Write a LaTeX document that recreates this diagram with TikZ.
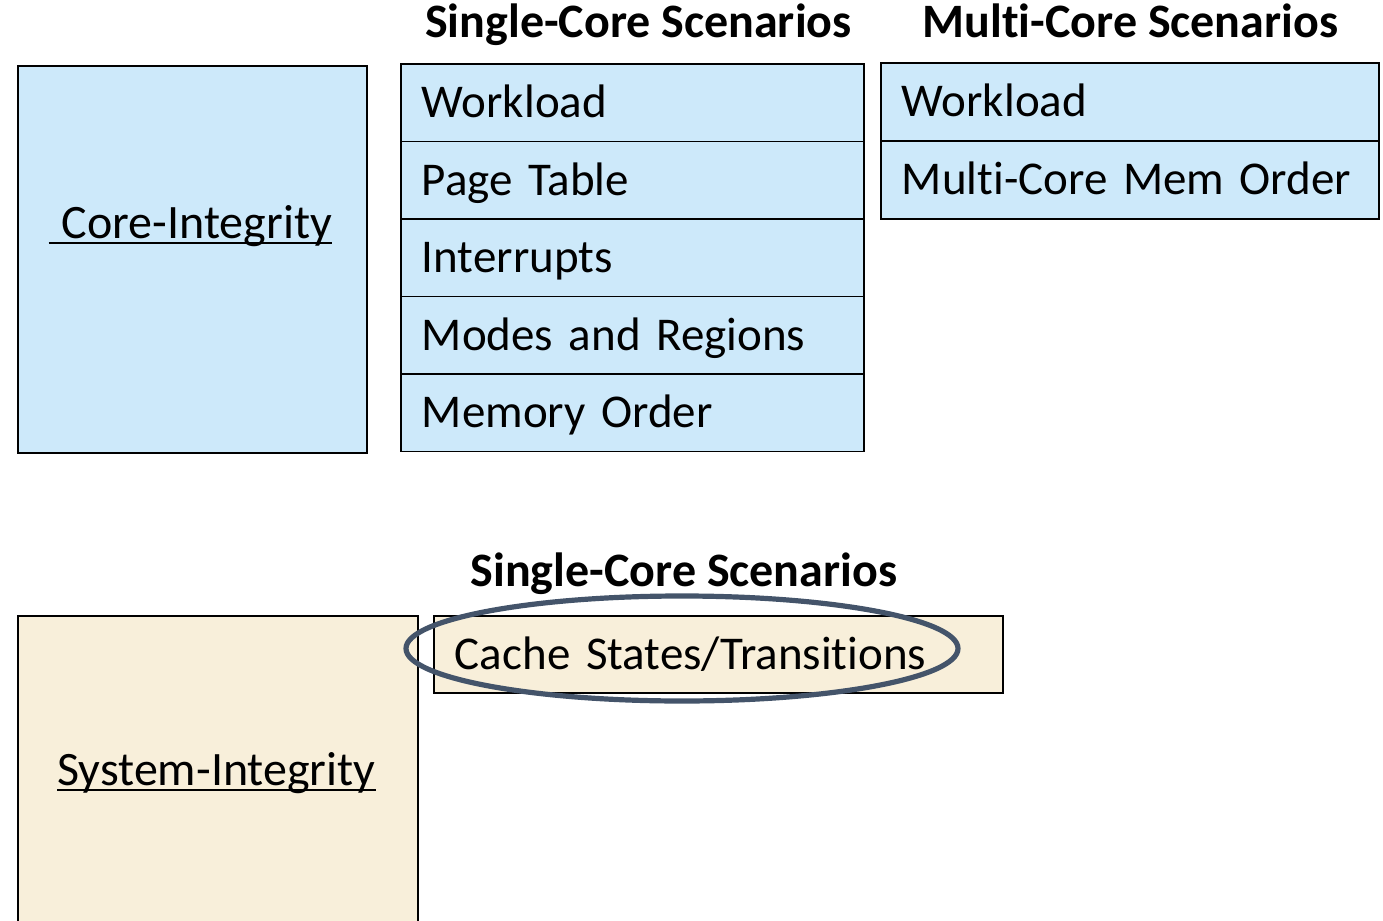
\documentclass[tikz,border=0pt]{standalone}
\usepackage{fontspec}
\setmainfont{Carlito}[Ligatures={NoCommon}]
\usetikzlibrary{shapes.geometric}
\definecolor{coreblue}{HTML}{CDE9FA}
\definecolor{sysbeige}{HTML}{F8EFDA}
\definecolor{ringslate}{HTML}{44546A}
\tikzset{
  boxline/.style={draw=black, line width=0.9pt},
  cell/.style={boxline, anchor=north west, inner xsep=10.5pt, inner ysep=0pt,
    align=left, text height=15pt, text depth=0pt,
    font=\fontsize{23.5}{26}\selectfont},
  corecell/.style={cell, fill=coreblue},
  singlecell/.style={corecell, minimum height=38.75pt, text width=210.5pt},
  multicell/.style={corecell, minimum height=39pt, text width=228pt},
  bigbox/.style={boxline, anchor=north west, inner sep=0pt},
  heading/.style={anchor=base, inner sep=0pt, font=\fontsize{24}{26}\selectfont\bfseries},
  title/.style={anchor=base, inner sep=0pt, font=\fontsize{24}{26}\selectfont},
  uline/.style={line width=0.9pt},
  ring/.style={ellipse, draw=ringslate, line width=2.6pt, inner sep=0pt}
}
\begin{document}
\begin{tikzpicture}[x=0.5pt, y=-0.5pt]
\useasboundingbox (0,0) rectangle (1383,921);

% Core-Integrity group
\node[bigbox, fill=coreblue, minimum width=174.5pt, minimum height=193.5pt] (core) at (17,65) {};
\node[title] (coret) at (190.5,238) {\hspace*{6.5pt}Core-Integrity};
\draw[uline] ([yshift=-2.6pt]coret.base west) -- ([yshift=-2.6pt]coret.base east);

\node[heading] (hsingle) at (638.5,38) {Single-Core Scenarios};
\node[singlecell] (s1) at (400,63) {Workload};
\node[singlecell] (s2) at (400,140.5) {Page Table};
\node[singlecell] (s3) at (400,218) {Interrupts};
\node[singlecell] (s4) at (400,295.5) {Modes and Regions};
\node[singlecell] (s5) at (400,373) {Memory Order};

\node[heading] (hmulti) at (1130.5,38) {Multi-Core Scenarios};
\node[multicell] (m1) at (880,62) {Workload};
\node[multicell] (m2) at (880,140) {Multi-Core Mem Order};

% System-Integrity group
\node[bigbox, fill=sysbeige, minimum width=200pt, minimum height=160pt] (sys) at (17,615) {};
\node[title] (syst) at (216.5,785) {System-Integrity};
\draw[uline] ([yshift=-2.6pt]syst.base west) -- ([yshift=-2.6pt]syst.base east);

\node[heading] (hsingleb) at (684,586) {Single-Core Scenarios};
\node[cell, fill=sysbeige, minimum height=38.5pt, text width=263.5pt] (cache) at (433,615) {Cache States/Transitions};

\node[ring, minimum width=276pt, minimum height=52.5pt] (focus) at (682,648.5) {};
\end{tikzpicture}
\end{document}
